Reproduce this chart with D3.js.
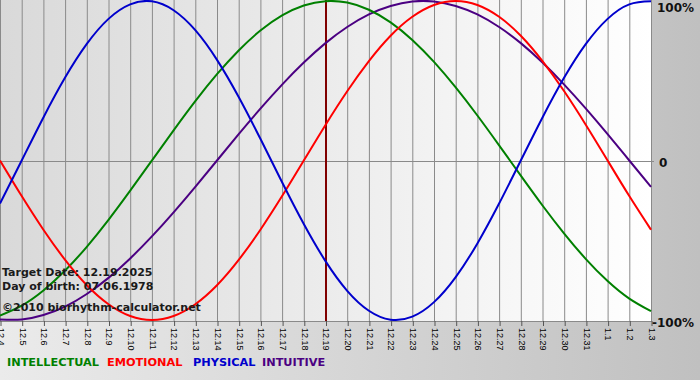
<!DOCTYPE html>
<html>
<head>
<meta charset="utf-8">
<script src="https://cdn.jsdelivr.net/npm/d3@7"></script>
<style>
html,body{margin:0;padding:0;background:#fff;}
svg{display:block;}
</style>
</head>
<body>
<svg id="chart" width="700" height="380"></svg>
<script>
// ---- data ----
const days = ["12.4","12.5","12.6","12.7","12.8","12.9","12.10","12.11","12.12","12.13","12.14","12.15","12.16","12.17","12.18","12.19","12.20","12.21","12.22","12.23","12.24","12.25","12.26","12.27","12.28","12.29","12.30","12.31","1.1","1.2","1.3"];
const intellectual = [-97.2,-91.0,-81.5,-69.0,-54.1,-37.2,-18.9,0,18.9,37.2,54.1,69.0,81.5,91.0,97.2,99.9,99.0,94.5,86.6,75.6,61.8,45.8,28.2,9.5,-9.5,-28.2,-45.8,-61.8,-75.6,-86.6,-94.5];
const emotional = [0,-22.3,-43.4,-62.3,-78.2,-90.1,-97.5,-100,-97.5,-90.1,-78.2,-62.3,-43.4,-22.3,0,22.3,43.4,62.3,78.2,90.1,97.5,100,97.5,90.1,78.2,62.3,43.4,22.3,0,-22.3,-43.4];
const physical = [-27.0,0,27.0,52.0,73.1,88.8,97.9,99.8,94.2,81.7,63.1,39.8,13.6,-13.6,-39.8,-63.1,-81.7,-94.2,-99.8,-97.9,-88.8,-73.1,-52.0,-27.0,0,27.0,52.0,73.1,88.8,97.9,99.8];
const intuitive = [-99.7,-99.7,-96.9,-91.6,-83.7,-73.6,-61.4,-47.6,-32.5,-16.5,0,16.5,32.5,47.6,61.4,73.6,83.7,91.6,96.9,99.7,99.7,96.9,91.6,83.7,73.6,61.4,47.6,32.5,16.5,0,-16.5];
const yTicks = [100, 0, -100];
const yTickLabels = ["100%", "0", "-100%"];
const targetDay = "12.19";
const infoLines = ["Target Date: 12.19.2025", "Day of birth: 07.06.1978", "\u00a92010 biorhythm-calculator.net"];
const legendNames = ["INTELLECTUAL", "EMOTIONAL", "PHYSICAL", "INTUITIVE"];

// ---- layout ----
const W = 700, H = 380;
const plot = {left: 0, top: 0, right: 651, bottom: 321};
const colors = {INTELLECTUAL: "#008000", EMOTIONAL: "#ff0000", PHYSICAL: "#0000cc", INTUITIVE: "#4b0082"};

const svg = d3.select("#chart");
const defs = svg.append("defs");
const gOuter = defs.append("linearGradient").attr("id","outerGrad").attr("x1","0").attr("y1","0").attr("x2","1").attr("y2","0");
gOuter.append("stop").attr("offset","0%").attr("stop-color","#ebebeb");
gOuter.append("stop").attr("offset","100%").attr("stop-color","#c0c0c0");
const gPlot = defs.append("linearGradient").attr("id","plotGrad").attr("x1","0").attr("y1","0").attr("x2","1").attr("y2","0");
gPlot.append("stop").attr("offset","0%").attr("stop-color","#d9d9d9");
gPlot.append("stop").attr("offset","100%").attr("stop-color","#ffffff");

svg.append("rect").attr("width",W).attr("height",H).attr("fill","url(#outerGrad)");
svg.append("rect").attr("x",plot.left).attr("y",plot.top)
  .attr("width",plot.right-plot.left).attr("height",plot.bottom-plot.top)
  .attr("fill","url(#plotGrad)");

const x = d3.scalePoint().domain(days).range([plot.left, plot.right]).padding(0);
const y = d3.scaleLinear().domain([-100, 100]).range([plot.bottom - 1, plot.top + 1]);

// vertical grid
svg.append("g").selectAll("line").data(days).join("line")
  .attr("x1", d => x(d) + 0.5).attr("x2", d => x(d) + 0.5)
  .attr("y1", plot.top).attr("y2", plot.bottom)
  .attr("stroke", "#8a8a8a").attr("stroke-width", 1);

// zero line
svg.append("line").attr("x1", plot.left).attr("x2", plot.right + 3)
  .attr("y1", Math.round(y(0)) + 0.5).attr("y2", Math.round(y(0)) + 0.5)
  .attr("stroke", "#8a8a8a");

// bottom border
svg.append("line").attr("x1", plot.left).attr("x2", plot.right+1)
  .attr("y1", plot.bottom + 0.5).attr("y2", plot.bottom + 0.5).attr("stroke", "#8a8a8a");

// x axis
const xAxis = d3.axisBottom(x).tickSize(5).tickSizeOuter(0);
const gx = svg.append("g").attr("transform", `translate(0.5,${plot.bottom})`).call(xAxis);
gx.select(".domain").remove();
gx.selectAll(".tick line").attr("stroke", "#555");
gx.selectAll(".tick text")
  .attr("transform", "rotate(90)")
  .attr("x", 7).attr("y", 0).attr("dy", "0.35em")
  .style("text-anchor", "start")
  .style("font-family", "'Liberation Sans', Arial, sans-serif")
  .style("font-size", "9px")
  .attr("fill", "#000");

// right axis
const yAxis = d3.axisRight(y).tickValues(yTicks).tickFormat((d,i) => yTickLabels[i]).tickSize(0);
const gy = svg.append("g").attr("transform", `translate(${plot.right + 4},0)`).call(yAxis);
gy.select(".domain").remove();
gy.selectAll(".tick text")
  .attr("x", 2)
  .style("font-family", "'DejaVu Sans', Verdana, sans-serif")
  .style("font-size", "12px").style("font-weight", "bold").attr("fill", "#111");
gy.selectAll(".tick").filter(d => d === 100).select("text").attr("dy", null).attr("y", 10);
gy.selectAll(".tick").filter(d => d === 0).select("text").attr("dy", null).attr("x", 4).attr("y", 5.5);
gy.selectAll(".tick").filter(d => d === -100).select("text").attr("dy", null).attr("x", -3).attr("y", 6);

// target day line
svg.append("line").attr("x1", x(targetDay) + 0.5).attr("x2", x(targetDay) + 0.5)
  .attr("y1", plot.top).attr("y2", plot.bottom)
  .attr("stroke", "#800000").attr("stroke-width", 2);

// curves
const series = [
  {name: "INTUITIVE", values: intuitive},
  {name: "INTELLECTUAL", values: intellectual},
  {name: "EMOTIONAL", values: emotional},
  {name: "PHYSICAL", values: physical}
];
const line = d3.line().x((d,i) => x(days[i])).y(d => y(d)).curve(d3.curveNatural);
svg.append("g").selectAll("path").data(series).join("path")
  .attr("d", s => line(s.values))
  .attr("fill", "none").attr("stroke", s => colors[s.name]).attr("stroke-width", 2);

// info text
const infoY = [276, 290, 311];
svg.append("g").selectAll("text").data(infoLines).join("text")
  .attr("x", 2).attr("y", (d,i) => infoY[i]).text(d => d)
  .style("font-family", "'DejaVu Sans', Verdana, sans-serif")
  .style("font-size", "11px").style("font-weight", "bold").attr("fill", "#1a1a1a");

// legend
const legX = [7, 107, 193, 262];
svg.append("g").selectAll("text").data(legendNames).join("text")
  .attr("x", (d,i) => legX[i]).attr("y", 366).text(d => d)
  .style("font-family", "'DejaVu Sans', Verdana, sans-serif")
  .style("font-size", "11.3px").style("font-weight", "bold")
  .attr("fill", d => colors[d]);
</script>
</body>
</html>
